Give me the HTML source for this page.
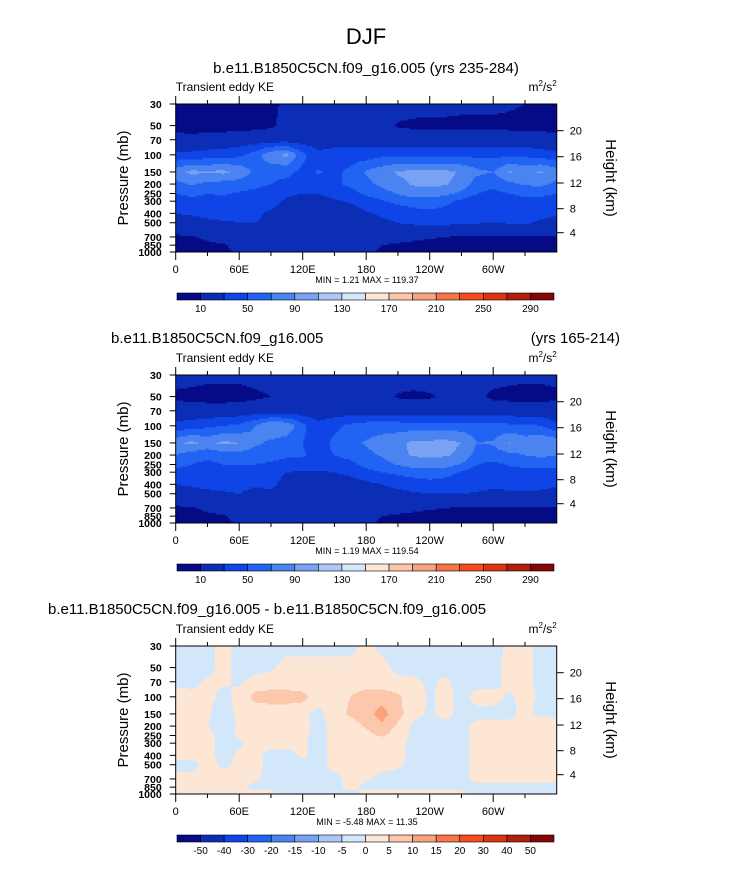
<!DOCTYPE html>
<html><head><meta charset="utf-8">
<style>
html,body{margin:0;padding:0;background:#fff;}
svg{display:block;font-family:"Liberation Sans",Arial,sans-serif;}
</style></head>
<body>
<svg id="fig" width="733" height="874" viewBox="0 0 733 874">
<text x="366" y="44" font-size="22" text-anchor="middle">DJF</text>
<text x="366" y="73" font-size="15" text-anchor="middle">b.e11.B1850C5CN.f09_g16.005 (yrs 235-284)</text>
<text x="111" y="343" font-size="15">b.e11.B1850C5CN.f09_g16.005</text>
<text x="620" y="343" font-size="15" text-anchor="end">(yrs 165-214)</text>
<text x="48" y="614" font-size="15">b.e11.B1850C5CN.f09_g16.005 - b.e11.B1850C5CN.f09_g16.005</text>
</svg>
<script>
const lons = [0,15,30,45,60,75,90,105,120,135,150,165,180,195,210,225,240,255,270,285,300,315,330,345,360];
const pressures = [30,50,70,100,150,200,250,300,400,500,700,850,1000];
const keLevels = [10,30,50,70,90,110,130,150,170,190,210,230,250,270,290];
const keTickLabels = ["10","50","90","130","170","210","250","290"];
const diffLevels = [-50,-40,-30,-20,-15,-10,-5,0,5,10,15,20,30,40,50];
const diffTickLabels = ["-50","-40","-30","-20","-15","-10","-5","0","5","10","15","20","30","40","50"];
const colors = ["#050a87","#0c2db5","#0f45e6","#2163f2","#4b84f0","#77a3f2","#a9c8f7","#d3e7fb","#fde6d4","#fcc7aa","#f9a27b","#f6764a","#f44c1f","#dc3410","#b21f0a","#850606"];
const xTickLons = [0,60,120,180,240,300];
const xTickLabels = ["0","60E","120E","180","120W","60W"];
const pTickValues = [30,50,70,100,150,200,250,300,400,500,700,850,1000];
const hTickLabels = ["20","16","12","8","4"];
const hTickOffsets = [26.7,52.7,79,104.7,128.7];

const ke1 = [
[8,7,6,7,8,7,8,12,14,15,16,16,16,16,15,14,13,13,12,12,12,11,10,9,8],
[7,6,6,6,6,7,8,14,15,15,15,15,15,14,9,8,8,8,8,8,8,8,8,8,7],
[13,13,14,15,16,17,18,18,18,18,18,18,18,17,16,16,15,15,15,15,15,14,14,13,13],
[35,35,38,40,45,60,85,95,55,35,40,40,40,45,45,45,45,45,45,45,45,45,45,40,35],
[80,95,92,95,85,65,55,55,45,52,45,55,72,82,92,95,95,95,88,75,70,92,85,92,80],
[65,72,65,62,60,55,50,45,45,42,45,55,65,75,85,92,95,92,82,60,55,65,72,75,65],
[50,55,50,52,48,45,40,32,30,30,35,42,55,62,72,80,80,75,65,50,45,50,55,55,50],
[42,44,45,45,42,40,35,28,25,25,28,32,40,48,55,60,62,55,45,38,36,40,45,44,42],
[30,32,35,38,35,32,28,22,20,20,20,20,28,33,38,42,45,42,38,34,33,34,35,34,32],
[22,24,26,28,30,30,28,18,18,18,18,18,22,26,30,33,35,34,32,31,30,31,32,28,25],
[8,9,12,15,18,18,18,17,15,15,15,15,15,14,13,12,11,10,9,9,8,8,8,8,8],
[7,7,8,9,13,14,14,14,13,13,13,13,12,10,9,8,7,7,7,7,7,7,7,7,7],
[5,4,3,8,11,11,11,11,11,11,11,11,11,9,7,7,7,7,7,7,7,7,7,7,5]];

const ke2 = [
[14,14,13,13,13,14,15,16,16,16,16,16,16,16,15,15,15,15,15,15,14,13,12,12,13],
[8,7,6,6,6,8,10,14,15,15,15,15,15,14,9,8,9,12,14,12,8,7,7,7,8],
[15,15,15,15,16,17,18,18,18,18,18,18,18,18,18,17,17,17,16,16,16,16,15,15,15],
[35,40,45,50,55,70,90,85,55,35,45,55,60,60,60,60,60,60,60,58,58,55,55,50,35],
[85,95,85,95,90,75,65,60,50,40,55,65,72,80,85,95,95,97,90,70,72,92,80,88,85],
[70,60,55,60,62,58,55,52,52,45,50,55,65,72,85,92,95,92,85,62,60,65,70,75,70],
[55,50,45,50,50,50,48,45,42,40,42,45,55,62,72,78,80,78,68,50,45,52,55,55,55],
[45,44,42,44,42,40,38,30,28,28,30,35,45,50,55,60,62,58,48,38,36,40,45,45,45],
[30,32,35,35,35,32,35,22,20,20,20,20,25,30,35,38,42,40,36,33,32,33,35,34,32],
[22,24,26,28,30,25,25,18,18,18,18,18,18,22,25,28,30,30,30,29,28,28,28,27,25],
[8,9,12,15,18,18,18,17,15,15,15,15,15,14,13,12,11,10,9,9,8,8,8,8,8],
[7,7,8,9,13,14,14,14,13,13,13,13,12,10,9,8,7,7,7,7,7,7,7,7,7],
[5,4,3,8,11,11,11,11,11,11,11,11,11,9,7,7,7,7,7,7,7,7,7,7,5]];

const keDiff = [
[-1,-1,-1,1,-1,-1,-1,-1,-1,-1,-1,-1,1,-1,-1,-1,-1,-1,-1,-1,-1,0.5,1,-1,-1],
[-1,-1,-1,1,-1,-1,-0.5,1,1,1,1,1,2,1,-1,-1,-1,-1,-1,-1,-1,1,1,-1,-1],
[-0.5,-1,0.5,0.5,-0.5,1,1.5,1.5,1,0.5,1,1.5,2,2,1,0.5,-0.5,0.5,-1,-1,-1,1,1,-1,-1],
[1,1,1,-1,1,7,8,8,7,1,2,5,8,8,6,2,-0.5,1,-1,1,1,-0.5,1,-0.5,-0.5],
[1,1,0.5,-2,1,1,1,1,0.5,-1,2,6,8,12,7,1,-0.5,1,-1,-1,-1,-1,1,-1,-1],
[1,1,0.5,-4,1,1,1,1,1,-1,1,2,6,9,4,-1,-1,-1,-1,1,1,1,1,5,1],
[1,1,1,-1,0.5,1,1,1,0.5,-1,1,1,3,6,2,-1,-1,-1,-1,1,1,1,1,2,1],
[1,1,1,-1,-0.5,1,1,1,0.5,-1,1,1,1,1,1,-1,-1,-1,-1,1,1,1,1,1,1],
[1,1,1,-1,0.5,1,-1,-1,0.5,-1,1,1,1,1,1,-1,-1,-1,-1,1,1,1,1,1,1],
[-1,-1,1,-0.5,0.5,1,-1,-1,-1,-1,1,1,1,1,0.5,-1,-1,-1,-1,1,1,1,1,1,1],
[1,1,1,1,1,0.5,-1,-1,-1,-1,-1,1,0.5,-1,-1,-1,-1,-1,-1,1,1,1,1,1,1],
[1,1,1,1,1,-1,-1,-1,-1,-1,-1,1,-1,-1,-1,-1,-1,-1,-1,-1,-1,-1,-1,-1,-1],
[1,1,1,1,1,1,1,-1,-1,-1,-1,-1,1,1,1,1,1,1,1,-1,-1,-1,-1,-1,-1]];

const NS="http://www.w3.org/2000/svg";
const svg=document.getElementById('fig');
const X0=175.7, X1=556.7, PH=148;
const lp0=Math.log(30), lp1=Math.log(1000);
function xScale(lon){return X0+(lon/360)*(X1-X0);}
function yScale(p,top){return top+(Math.log(p)-lp0)/(lp1-lp0)*PH;}
function mk(tag,attrs,parent){const e=document.createElementNS(NS,tag);for(const k in attrs)e.setAttribute(k,attrs[k]);(parent||svg).appendChild(e);return e;}
function binOf(v,levels){let i=0;while(i<levels.length&&v>=levels[i])i++;return i;}
function sample(data,lon,p){
  let i=0;while(i<lons.length-2&&lon>lons[i+1])i++;
  const tx=Math.min(1,Math.max(0,(lon-lons[i])/(lons[i+1]-lons[i])));
  const lp=Math.log(p);let j=0;while(j<pressures.length-2&&lp>Math.log(pressures[j+1]))j++;
  const a=Math.log(pressures[j]),b=Math.log(pressures[j+1]);
  const ty=Math.min(1,Math.max(0,(lp-a)/(b-a)));
  const v00=data[j][i],v01=data[j][i+1],v10=data[j+1][i],v11=data[j+1][i+1];
  return (v00*(1-tx)+v01*tx)*(1-ty)+(v10*(1-tx)+v11*tx)*ty;
}
function drawField(g,data,levels,top){
  const step=1.5;
  for(let y=top;y<top+PH;y+=step){
    const p=Math.exp(lp0+((y+step/2-top)/PH)*(lp1-lp0));
    let runStart=X0,runBin=-1;
    for(let x=X0;x<=X1;x+=step){
      let bin=-1;
      if(x<X1){const lon=(x+step/2-X0)/(X1-X0)*360;bin=binOf(sample(data,lon,p),levels);}
      if(bin!==runBin){
        if(runBin>=0){
          const r=mk('rect',{x:runStart.toFixed(2),y:y.toFixed(2),width:(Math.min(x,X1)-runStart+0.4).toFixed(2),height:(Math.min(step,top+PH-y)+0.4).toFixed(2),fill:colors[runBin]},g);
          
          
        }
        runStart=x;runBin=bin;
      }
    }
  }
}
function drawPanel(top,data,levels,tickLabels,minmax,idx,everyBoundary){
  const g=mk('g',{});
  
  
  const fg=mk('g',{},g);
  
  
  drawField(fg,data,levels,top);
  const fr=mk('rect',{x:X0,y:top,width:X1-X0,height:PH,fill:'none',stroke:'#000','stroke-width':1},g);
  
  
  for(let lon=0;lon<360;lon+=30){
    const x=xScale(lon),len=(lon%60===0)?8:4;
    mk('line',{x1:x,x2:x,y1:top,y2:top-len,stroke:'#000'},g);
    mk('line',{x1:x,x2:x,y1:top+PH,y2:top+PH+len,stroke:'#000'},g);
  }
  xTickLons.forEach((lon,i)=>{
    const t=mk('text',{x:xScale(lon),y:top+PH+21,'font-size':11,'text-anchor':'middle'},g);
    t.textContent=xTickLabels[i];
    
    
  });
  pTickValues.forEach(p=>{
    const y=yScale(p,top);
    mk('line',{x1:X0,x2:X0-6,y1:y,y2:y,stroke:'#000'},g);
    const t=mk('text',{x:X0-14,y:y+4,'font-size':10.5,'font-weight':'bold','text-anchor':'end'},g);
    t.textContent=String(p);
    
    
  });
  hTickOffsets.forEach((o,i)=>{
    const y=top+o;
    mk('line',{x1:X1,x2:X1+7,y1:y,y2:y,stroke:'#000'},g);
    const t=mk('text',{x:X1+13,y:y+4,'font-size':11},g);
    t.textContent=hTickLabels[i];
    
    
  });
  let t=mk('text',{x:128,y:top+PH/2,'font-size':15,'text-anchor':'middle',transform:`rotate(-90 128 ${top+PH/2})`},g);
  t.textContent='Pressure (mb)';
  
  
  t=mk('text',{x:606,y:top+PH/2,'font-size':15,'text-anchor':'middle',transform:`rotate(90 606 ${top+PH/2})`},g);
  t.textContent='Height (km)';
  
  
  t=mk('text',{x:X0,y:top-13,'font-size':12},g);
  t.textContent='Transient eddy KE';
  
  
  t=mk('text',{x:X1,y:top-13,'font-size':12,'text-anchor':'end'},g);
  t.innerHTML='m<tspan dy="-5" font-size="8">2</tspan><tspan dy="5">/s</tspan><tspan dy="-5" font-size="8">2</tspan>';
  
  
  t=mk('text',{x:367,y:top+PH+31,'font-size':9,'text-anchor':'middle','xml:space':'preserve'},g);
  t.textContent=minmax;
  
  
  const cy=top+PH+41,cx0=177,cx1=554,bw=(cx1-cx0)/colors.length;
  const cb=mk('g',{},g);
  
  
  colors.forEach((c,i)=>{
    const r=mk('rect',{x:cx0+i*bw,y:cy,width:bw,height:7,fill:c,stroke:'#000','stroke-width':0.6},cb);
    
    
  });
  tickLabels.forEach((lab,i)=>{
    const b=everyBoundary?(i+1):(2*i+1);
    const tl=mk('text',{x:cx0+b*bw,y:cy+19,'font-size':10,'text-anchor':'middle'},cb);
    tl.textContent=lab;
    
    
  });
}
drawPanel(104,ke1,keLevels,keTickLabels,'MIN =   1.21  MAX = 119.37',1,false);
drawPanel(375,ke2,keLevels,keTickLabels,'MIN =   1.19  MAX = 119.54',2,false);
drawPanel(646,keDiff,diffLevels,diffTickLabels,'MIN =  -5.48  MAX =  11.35',3,true);
</script>
</body></html>
